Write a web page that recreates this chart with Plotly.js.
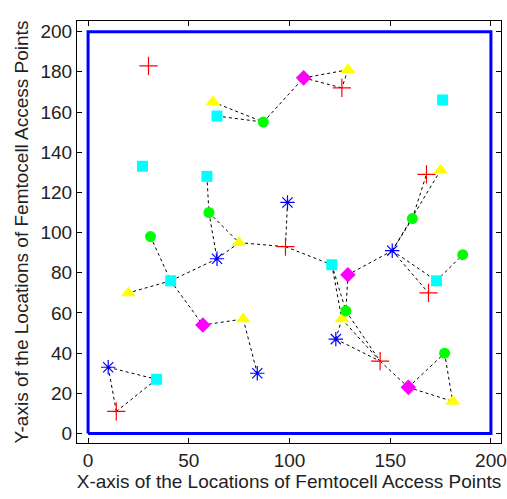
<!DOCTYPE html>
<html>
<head>
<meta charset="utf-8">
<script src="https://cdn.plot.ly/plotly-3.0.1.min.js"></script>
<style>html,body{margin:0;padding:0;background:#fff;}#chart{width:507px;height:499px;}</style>
</head>
<body>
<div id="chart"></div>
<script>
// Node locations by type
const redX = [30, 126, 168, 98, 169, 145, 14];
const redY = [183, 172, 129, 93, 70, 36, 11];
const yellowX = [62, 129, 175, 75, 20, 77, 126, 181];
const yellowY = [165, 181, 131, 95, 70, 57, 57, 16];
const cyanX = [64, 27, 59, 176, 41, 121, 173, 34];
const cyanY = [158, 133, 128, 166, 76, 84, 76, 27];
const greenX = [87, 60, 161, 31, 186, 128, 177];
const greenY = [155, 110, 107, 98, 89, 61, 40];
const magentaX = [107, 129, 57, 159];
const magentaY = [177, 79, 54, 23];
const blueX = [99, 64, 151, 123, 84, 10];
const blueY = [115, 87, 91, 47, 30, 33];

// Links (start x, start y, end x, end y)
const linkX1 = [62, 64, 87, 107, 107, 129, 59, 60, 60, 75, 64, 64, 31, 41, 41, 57, 77, 10, 10, 14, 99, 98, 121, 121, 129, 128, 126, 126, 123, 145, 159, 159, 177, 151, 151, 151, 173, 161, 161, 175];
const linkY1 = [165, 158, 155, 177, 177, 181, 128, 110, 110, 95, 87, 87, 98, 76, 76, 54, 57, 33, 33, 11, 115, 93, 84, 84, 79, 61, 57, 57, 47, 36, 23, 23, 40, 91, 91, 91, 76, 107, 107, 131];
const linkX2 = [87, 87, 107, 129, 126, 126, 60, 64, 75, 98, 75, 41, 41, 20, 57, 77, 84, 34, 14, 34, 98, 121, 128, 126, 128, 145, 145, 123, 145, 159, 177, 181, 181, 129, 173, 169, 186, 151, 168, 151];
const linkY2 = [155, 155, 177, 181, 172, 172, 110, 87, 95, 93, 95, 76, 76, 70, 54, 57, 30, 27, 11, 27, 93, 84, 61, 57, 61, 36, 36, 47, 36, 23, 40, 16, 16, 79, 76, 70, 89, 91, 129, 91];

const boundaryX = [0, 200, 200, 0, 0];
const boundaryY = [0, 0, 200, 200, 0];

const traces = [];
traces.push({x: boundaryX, y: boundaryY, mode: 'lines', line: {color: '#0000ff', width: 3}, hoverinfo: 'skip', showlegend: false});
const lx = [], ly = [];
for (let i = 0; i < linkX1.length; i++) {
  lx.push(linkX1[i], linkX2[i], null);
  ly.push(linkY1[i], linkY2[i], null);
}
traces.push({x: lx, y: ly, mode: 'lines', line: {color: '#000', width: 1, dash: '3px,3px'}, hoverinfo: 'skip', showlegend: false});
traces.push({x: redX, y: redY, mode: 'markers', marker: {symbol: 'cross-thin-open', size: 13, color: '#ff0000', line: {color: '#ff0000', width: 1.2}}, showlegend: false});
traces.push({x: yellowX, y: yellowY, mode: 'markers', marker: {symbol: 'triangle-up', size: 13, color: '#ffff00', line: {width: 0}}, showlegend: false});
traces.push({x: cyanX, y: cyanY, mode: 'markers', marker: {symbol: 'square', size: 11, color: '#00ffff', line: {width: 0}}, showlegend: false});
traces.push({x: greenX, y: greenY, mode: 'markers', marker: {symbol: 'circle', size: 11, color: '#00ff00', line: {width: 0}}, showlegend: false});
traces.push({x: magentaX, y: magentaY, mode: 'markers', marker: {symbol: 'diamond', size: 12, color: '#ff00ff', line: {width: 0}}, showlegend: false});
traces.push({x: blueX, y: blueY, mode: 'markers', marker: {symbol: 'asterisk-open', size: 12, color: '#0000ff', line: {color: '#0000ff', width: 1.2}}, showlegend: false});

const fontFam = 'Liberation Sans, Arial, sans-serif';
const axisCommon = {
  showgrid: false, zeroline: false, showline: true, linecolor: '#000', linewidth: 1,
  mirror: 'ticks', ticks: 'inside', ticklen: 5, tickcolor: '#000',
  tickfont: {family: fontFam, size: 19, color: '#222'}
};
const layout = {
  width: 507, height: 499,
  margin: {l: 77, r: 6, t: 21, b: 56},
  paper_bgcolor: '#fff', plot_bgcolor: '#fff',
  xaxis: Object.assign({}, axisCommon, {
    range: [-5.5, 205], tickvals: [0, 50, 100, 150, 200],
    title: {text: 'X-axis of the Locations of Femtocell Access Points', standoff: 2,
      font: {family: fontFam, size: 19, color: '#222'}}
  }),
  yaxis: Object.assign({}, axisCommon, {
    range: [-4.7, 205.3], tickvals: [0, 20, 40, 60, 80, 100, 120, 140, 160, 180, 200],
    title: {text: 'Y-axis of the Locations of Femtocell Access Points', standoff: 6,
      font: {family: fontFam, size: 19, color: '#222'}}
  }),
  showlegend: false
};
Plotly.newPlot('chart', traces, layout, {displayModeBar: false, staticPlot: true});
</script>
</body>
</html>
